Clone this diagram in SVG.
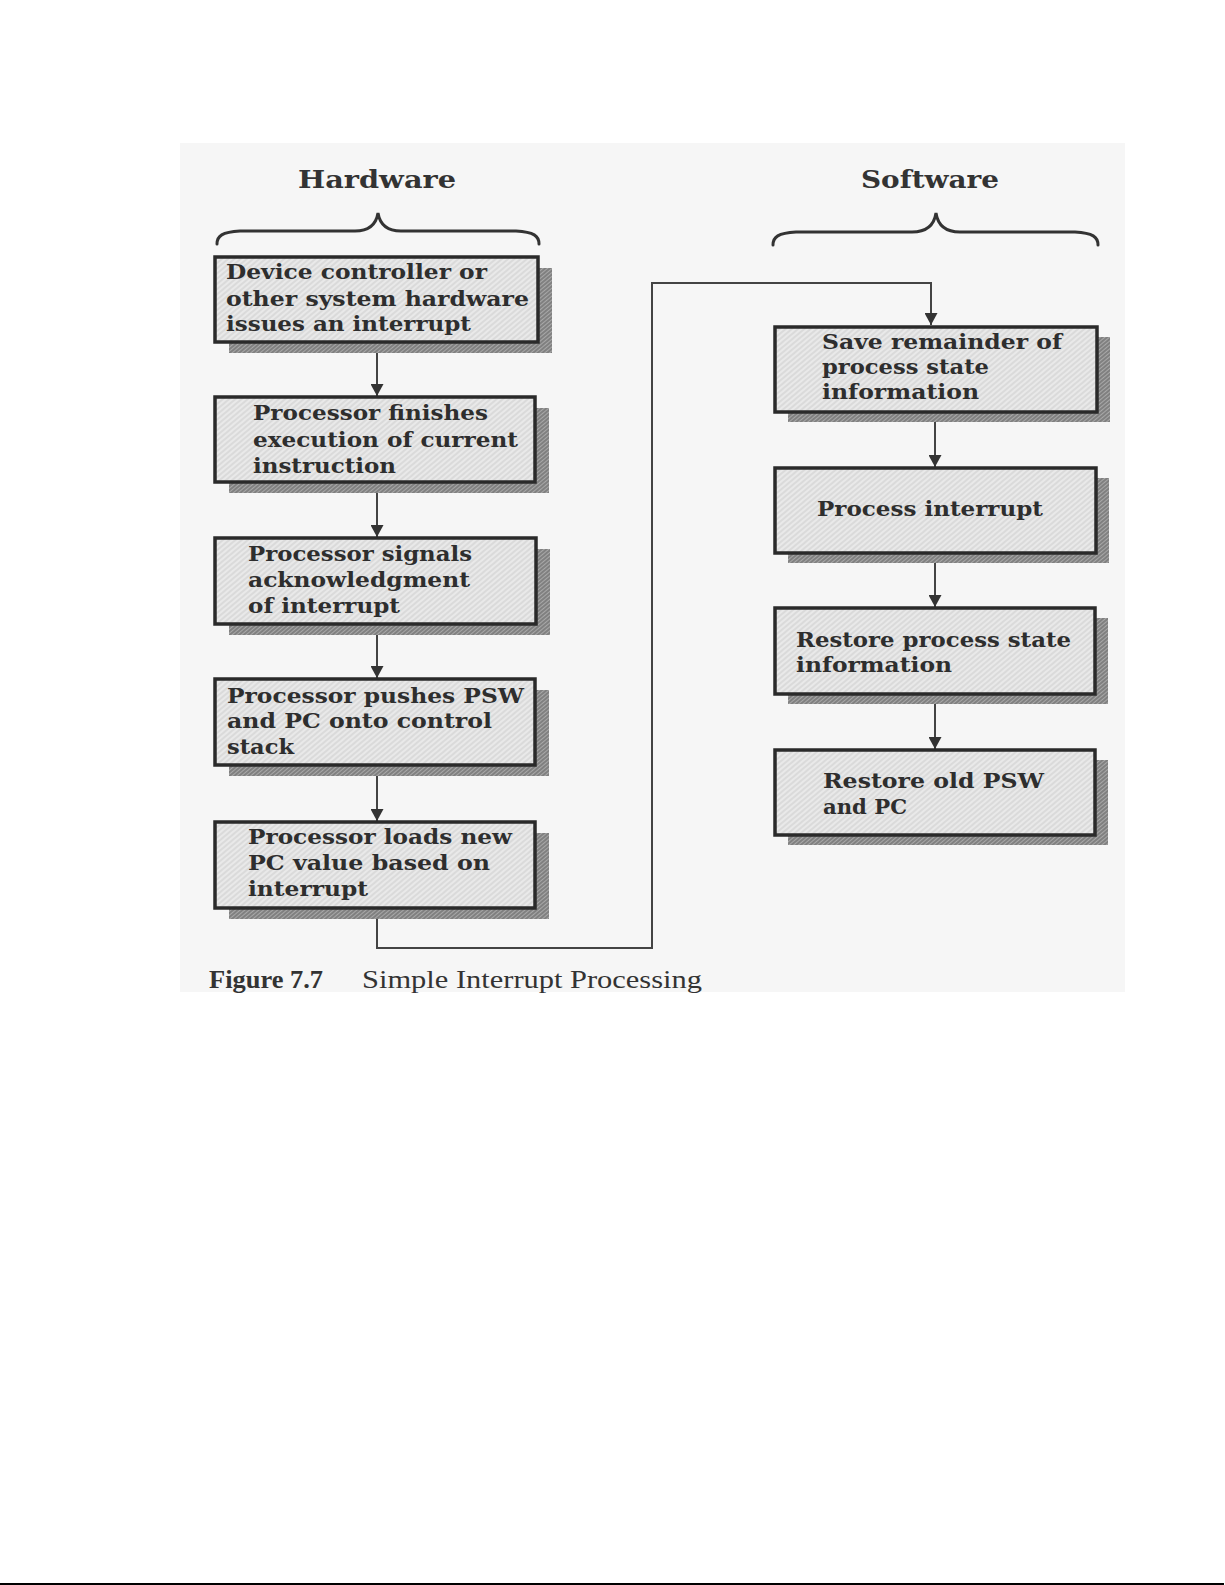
<svg xmlns="http://www.w3.org/2000/svg" width="1225" height="1585" viewBox="0 0 1225 1585">
<style>
.box{fill:url(#hatch);stroke:#2a2a2a;stroke-width:3.5}
.shadow{fill:url(#shatch);stroke:none}
.t{font-family:"DejaVu Serif","Liberation Serif",serif;font-weight:bold;font-size:21px;fill:#2e2e2e}
.hdr{font-family:"DejaVu Serif","Liberation Serif",serif;font-weight:bold;font-size:24px;fill:#333}
.cap{font-family:"Liberation Serif",serif;font-size:25px;fill:#333}
.conn{fill:none;stroke:#444;stroke-width:2}
.brace{fill:none;stroke:#333;stroke-width:3;stroke-linecap:round}
</style>
<defs>
<pattern id="hatch" patternUnits="userSpaceOnUse" width="4" height="4" patternTransform="rotate(-40)">
<rect width="4" height="4" fill="#e9e9e9"/>
<line x1="0" y1="1" x2="4" y2="1" stroke="#cbcbcb" stroke-width="1"/>
</pattern>
<pattern id="shatch" patternUnits="userSpaceOnUse" width="3" height="3" patternTransform="rotate(-40)">
<rect width="3" height="3" fill="#a8a8a8"/>
<line x1="0" y1="1" x2="3" y2="1" stroke="#666" stroke-width="1.2"/>
</pattern>
<marker id="arr" markerUnits="userSpaceOnUse" markerWidth="13" markerHeight="13" refX="12" refY="6.5" orient="auto">
<path d="M0,0 L12,6.5 L0,13 z" fill="#333"/>
</marker>
</defs>
<rect x="0" y="0" width="1225" height="1585" fill="#fff"/>
<rect x="180" y="143" width="945" height="849" fill="#f6f6f6"/>
<rect x="0" y="1583" width="1224" height="2" fill="#000"/>

<text class="hdr" x="298" y="188" textLength="158" lengthAdjust="spacingAndGlyphs">Hardware</text>
<text class="hdr" x="861" y="188" textLength="138" lengthAdjust="spacingAndGlyphs">Software</text>
<path class="brace" d="M217,244 C217,236 222,232 240,231 L355,231 C368,231 376,225 378,213 C380,225 388,231 401,231 L516,231 C534,232 539,236 539,244"/>
<path class="brace" d="M773,245 C773,237 778,233 796,232 L912,232 C926,232 934,226 936,213 C938,226 946,232 960,232 L1075,232 C1093,233 1098,237 1098,245"/>

<g id="connectors">
<line class="conn" x1="377" y1="342" x2="377" y2="396" marker-end="url(#arr)"/>
<line class="conn" x1="377" y1="482" x2="377" y2="537" marker-end="url(#arr)"/>
<line class="conn" x1="377" y1="624" x2="377" y2="678" marker-end="url(#arr)"/>
<line class="conn" x1="377" y1="765" x2="377" y2="821" marker-end="url(#arr)"/>
<path class="conn" d="M377,908 V948 H652 V283 H931 V325" marker-end="url(#arr)"/>
<line class="conn" x1="935" y1="412" x2="935" y2="467" marker-end="url(#arr)"/>
<line class="conn" x1="935" y1="553" x2="935" y2="607" marker-end="url(#arr)"/>
<line class="conn" x1="935" y1="694" x2="935" y2="749" marker-end="url(#arr)"/>
</g>

<g id="n1">
<rect class="shadow" x="229" y="268" width="323" height="85"/>
<rect class="box" x="215" y="257" width="323" height="85"/>
<text class="t" x="226" y="279" textLength="261" lengthAdjust="spacingAndGlyphs">Device controller or</text>
<text class="t" x="226" y="306" textLength="303" lengthAdjust="spacingAndGlyphs">other system hardware</text>
<text class="t" x="226" y="331" textLength="245" lengthAdjust="spacingAndGlyphs">issues an interrupt</text>
</g>
<g id="n2">
<rect class="shadow" x="229" y="408" width="320" height="85"/>
<rect class="box" x="215" y="397" width="320" height="85"/>
<text class="t" x="253" y="420" textLength="235" lengthAdjust="spacingAndGlyphs">Processor finishes</text>
<text class="t" x="253" y="447" textLength="265" lengthAdjust="spacingAndGlyphs">execution of current</text>
<text class="t" x="253" y="473" textLength="143" lengthAdjust="spacingAndGlyphs">instruction</text>
</g>
<g id="n3">
<rect class="shadow" x="229" y="549" width="321" height="86"/>
<rect class="box" x="215" y="538" width="321" height="86"/>
<text class="t" x="248" y="561" textLength="224" lengthAdjust="spacingAndGlyphs">Processor signals</text>
<text class="t" x="248" y="587" textLength="222" lengthAdjust="spacingAndGlyphs">acknowledgment</text>
<text class="t" x="248" y="613" textLength="152" lengthAdjust="spacingAndGlyphs">of interrupt</text>
</g>
<g id="n4">
<rect class="shadow" x="229" y="690" width="320" height="86"/>
<rect class="box" x="215" y="679" width="320" height="86"/>
<text class="t" x="227" y="703" textLength="297" lengthAdjust="spacingAndGlyphs">Processor pushes PSW</text>
<text class="t" x="227" y="728" textLength="265" lengthAdjust="spacingAndGlyphs">and PC onto control</text>
<text class="t" x="227" y="754" textLength="67" lengthAdjust="spacingAndGlyphs">stack</text>
</g>
<g id="n5">
<rect class="shadow" x="229" y="833" width="320" height="86"/>
<rect class="box" x="215" y="822" width="320" height="86"/>
<text class="t" x="248" y="844" textLength="264" lengthAdjust="spacingAndGlyphs">Processor loads new</text>
<text class="t" x="248" y="870" textLength="242" lengthAdjust="spacingAndGlyphs">PC value based on</text>
<text class="t" x="248" y="896" textLength="120" lengthAdjust="spacingAndGlyphs">interrupt</text>
</g>

<g id="n6">
<rect class="shadow" x="788" y="337" width="322" height="85"/>
<rect class="box" x="775" y="327" width="322" height="85"/>
<text class="t" x="822" y="349" textLength="240" lengthAdjust="spacingAndGlyphs">Save remainder of</text>
<text class="t" x="822" y="374" textLength="167" lengthAdjust="spacingAndGlyphs">process state</text>
<text class="t" x="822" y="399" textLength="157" lengthAdjust="spacingAndGlyphs">information</text>
</g>
<g id="n7">
<rect class="shadow" x="788" y="478" width="321" height="85"/>
<rect class="box" x="775" y="468" width="321" height="85"/>
<text class="t" x="817" y="516" textLength="226" lengthAdjust="spacingAndGlyphs">Process interrupt</text>
</g>
<g id="n8">
<rect class="shadow" x="788" y="618" width="320" height="86"/>
<rect class="box" x="775" y="608" width="320" height="86"/>
<text class="t" x="796" y="647" textLength="275" lengthAdjust="spacingAndGlyphs">Restore process state</text>
<text class="t" x="796" y="672" textLength="156" lengthAdjust="spacingAndGlyphs">information</text>
</g>
<g id="n9">
<rect class="shadow" x="788" y="760" width="320" height="85"/>
<rect class="box" x="775" y="750" width="320" height="85"/>
<text class="t" x="823" y="788" textLength="221" lengthAdjust="spacingAndGlyphs">Restore old PSW</text>
<text class="t" x="823" y="814" textLength="84" lengthAdjust="spacingAndGlyphs">and PC</text>
</g>

<text class="cap" x="209" y="988" font-weight="bold" textLength="114" lengthAdjust="spacingAndGlyphs">Figure 7.7</text>
<text class="cap" x="362" y="988" textLength="340" lengthAdjust="spacingAndGlyphs">Simple Interrupt Processing</text>
</svg>
